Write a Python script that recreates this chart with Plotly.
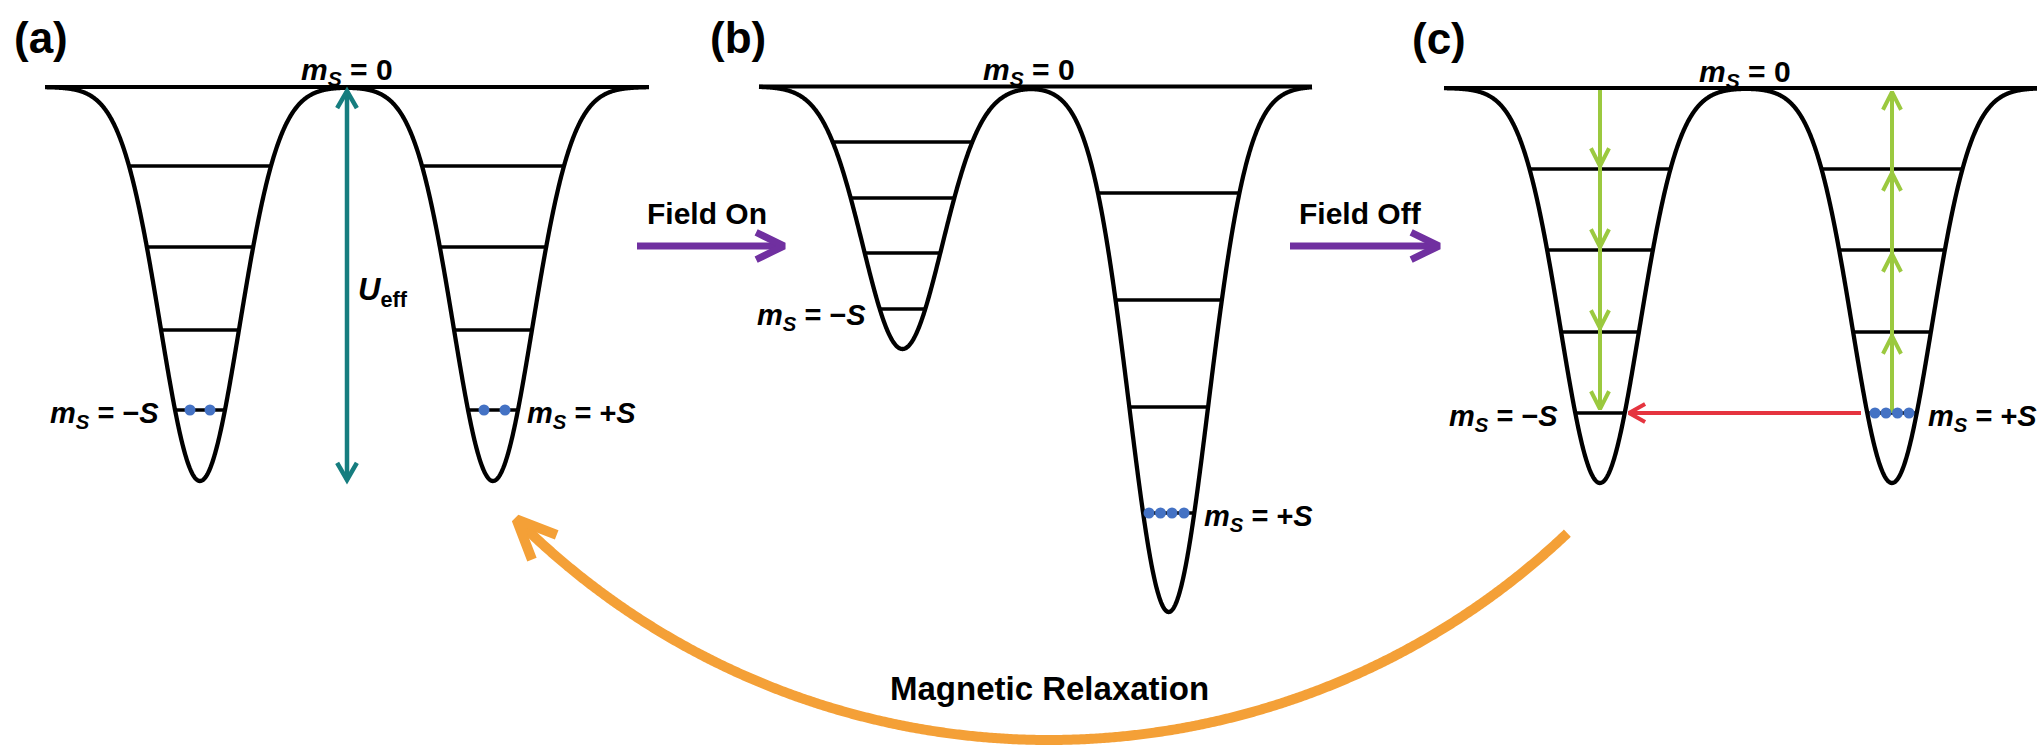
import numpy as np
import plotly.graph_objects as go

W, H = 2037, 747

# ---------------- data (pixel units, y grows downward) ----------------
panel_labels = ["(a)", "(b)", "(c)"]
panel_label_x = [41, 738, 1439]
panel_label_y = [37, 37, 38]

top_y = [87, 86.5, 88]                 # m_S = 0 line of each panel
top_x0 = [45, 759, 1444]
top_x1 = [649, 1312, 2047]
well_centers = [[200, 493], [902.5, 1168.7], [1600, 1892]]
well_depths = [[394, 394], [262.5, 525.5], [395, 395]]
well_width = 56

levels_y = [
    [[166, 247, 330, 410], [166, 247, 330, 410]],
    [[142, 198, 253, 309], [193, 300, 407, 513]],
    [[169, 250, 332, 413], [169, 250, 332, 413]],
]

dots_x = [[190, 210, 484, 505], [1149, 1160.5, 1172, 1184], [1875, 1886, 1897.5, 1909]]
dots_y = [410, 513, 413]

zero_label_x = [347, 1029, 1745]
zero_label_y = [66, 66, 68]
minus_label_x = [161, 868, 1560]
minus_label_y = [410, 312, 413]
plus_label_x = [525, 1202, 1926]
plus_label_y = [410, 513, 413]

ueff_x = 347
ueff_y = [91, 480]
ueff_label = (356, 288)

field_texts = ["Field On", "Field Off"]
field_x0 = [637, 1290]
field_x1 = [784, 1439]
field_arrow_y = 246
field_text_x = [707, 1360]
field_text_y = 213

green_down_x = 1600
green_down_start = 90
green_down_tips = [166, 247, 328, 409]
green_up_x = 1892
green_up_start = 413
green_up_tips = [336, 254, 173, 92]

red_y = 413
red_x = [1861, 1629]

arc_center = (1049, -13)
arc_radius = 753
arc_angles = [46.5, 135.0]             # degrees, start (right) -> tip (left)
relax_text = "Magnetic Relaxation"
relax_pos = (1049, 688)

BLACK = "#000000"
TEAL = "#167D7F"
PURPLE = "#7030A0"
GREEN = "#9BC93F"
RED = "#E5343F"
BLUE = "#4472C4"
ORANGE = "#F4A037"
FONT = "Liberation Sans, Arial, sans-serif"

fig = go.Figure()


def well_curve(p, x):
    y = np.full_like(x, top_y[p], dtype=float)
    for c, d in zip(well_centers[p], well_depths[p]):
        y += d * np.exp(-((x - c) / well_width) ** 2)
    return y


def add_line(xs, ys, color, width):
    fig.add_trace(go.Scatter(x=xs, y=ys, mode="lines", hoverinfo="skip",
                             line=dict(color=color, width=width, simplify=False)))


def chevron(tip, direction, length, half_angle_deg):
    dx, dy = direction
    n = np.hypot(dx, dy)
    dx, dy = dx / n, dy / n
    a = np.radians(half_angle_deg)
    pts = []
    for s in (1, -1):
        ca, sa = np.cos(s * a), np.sin(s * a)
        pts.append((tip[0] + length * (dx * ca - dy * sa), tip[1] + length * (dx * sa + dy * ca)))
    return [pts[0][0], tip[0], pts[1][0]], [pts[0][1], tip[1], pts[1][1]]


# ---------------- wells ----------------
for p in range(3):
    add_line([top_x0[p], top_x1[p]], [top_y[p], top_y[p]], BLACK, 4)
    lx, ly = [], []
    for c, d, lv in zip(well_centers[p], well_depths[p], levels_y[p]):
        for yl in lv:
            half = well_width * np.sqrt(np.log(d / (yl - top_y[p])))
            lx += [c - half, c + half, None]
            ly += [yl, yl, None]
    add_line(lx, ly, BLACK, 3.3)
    xs = np.linspace(top_x0[p], top_x1[p], 1500)
    add_line(xs, well_curve(p, xs), BLACK, 4.3)

# ---------------- U_eff arrow ----------------
add_line([ueff_x, ueff_x], ueff_y, TEAL, 4.5)
cx, cy = chevron((ueff_x, ueff_y[0]), (0, 1), 19.7, 30)
add_line(cx, cy, TEAL, 4.5)
cx, cy = chevron((ueff_x, ueff_y[1]), (0, -1), 19.7, 30)
add_line(cx, cy, TEAL, 4.5)

# ---------------- field arrows ----------------
for x0, x1 in zip(field_x0, field_x1):
    add_line([x0, x1 - 2], [field_arrow_y, field_arrow_y], PURPLE, 7)
    cx, cy = chevron((x1, field_arrow_y), (-1, 0), 31, 26)
    add_line(cx, cy, PURPLE, 7)

# ---------------- green transitions ----------------
add_line([green_down_x, green_down_x], [green_down_start, green_down_tips[-1]], GREEN, 4)
for t in green_down_tips:
    cx, cy = chevron((green_down_x, t), (0, -1), 19.9, 27)
    add_line(cx, cy, GREEN, 4)
add_line([green_up_x, green_up_x], [green_up_start, green_up_tips[-1]], GREEN, 4)
for t in green_up_tips:
    cx, cy = chevron((green_up_x, t), (0, 1), 19.9, 27)
    add_line(cx, cy, GREEN, 4)

# ---------------- red tunnelling arrow ----------------
add_line(red_x, [red_y, red_y], RED, 4)
cx, cy = chevron((red_x[1], red_y), (1, 0), 18.4, 29)
add_line(cx, cy, RED, 4)

# ---------------- orange relaxation arc ----------------
th = np.radians(np.linspace(arc_angles[0], arc_angles[1], 600))
ax_ = arc_center[0] + arc_radius * np.cos(th)
ay_ = arc_center[1] + arc_radius * np.sin(th)
add_line(ax_, ay_, ORANGE, 10)
tip = (ax_[-1], ay_[-1])
tdir = (np.sin(th[-1]), -np.cos(th[-1]))
cx, cy = chevron(tip, tdir, 43, 24)
add_line(cx, cy, ORANGE, 10)

# ---------------- spin population dots ----------------
for xs_, y_ in zip(dots_x, dots_y):
    fig.add_trace(go.Scatter(x=xs_, y=[y_] * len(xs_), mode="markers", hoverinfo="skip",
                             marker=dict(color=BLUE, size=11, line=dict(width=0))))

# ---------------- text ----------------
ann = []


def txt(x, y, s, size, xa="center", ya="middle", ys=0):
    ann.append(dict(x=x, y=y, xref="x", yref="y", text=s, showarrow=False,
                    xanchor=xa, yanchor=ya, yshift=ys,
                    font=dict(family=FONT, size=size, color="black")))


for i in range(3):
    txt(panel_label_x[i], panel_label_y[i], "<b>%s</b>" % panel_labels[i], 44)
    txt(zero_label_x[i], zero_label_y[i], "<b><i>m</i><sub><i>S</i></sub> = 0</b>", 30, ys=-5)
    txt(minus_label_x[i], minus_label_y[i], "<b><i>m</i><sub><i>S</i></sub> = −<i>S</i></b>", 29,
        xa="right", ys=-5)
    txt(plus_label_x[i], plus_label_y[i], "<b><i>m</i><sub><i>S</i></sub> = +<i>S</i></b>", 29,
        xa="left", ys=-5)

txt(ueff_label[0], ueff_label[1], "<b><i>U</i><sub>eff</sub></b>", 31, xa="left", ys=-4)
for t, x in zip(field_texts, field_text_x):
    txt(x, field_text_y, "<b>%s</b>" % t, 30)
txt(relax_pos[0], relax_pos[1], "<b>%s</b>" % relax_text, 33)

fig.update_layout(
    width=W, height=H,
    margin=dict(l=0, r=0, t=0, b=0),
    paper_bgcolor="white", plot_bgcolor="white",
    showlegend=False,
    xaxis=dict(range=[0, W], visible=False, fixedrange=True),
    yaxis=dict(range=[H, 0], visible=False, fixedrange=True),
    annotations=ann,
)

fig.write_html("out.html", config={"displayModeBar": False},
               post_script="document.body.style.margin='0';document.body.style.overflow='hidden';")
